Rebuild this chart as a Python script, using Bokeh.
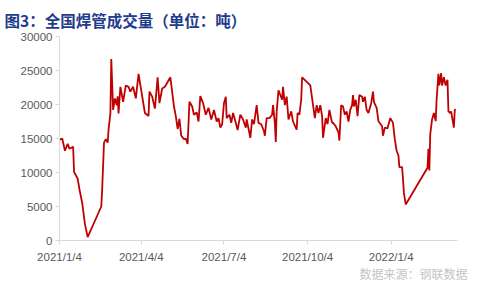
import pandas as pd
from bokeh.plotting import figure
from bokeh.models import Range1d, FixedTicker, Title, ColumnDataSource
from bokeh.embed import file_html
from bokeh.resources import INLINE

# ---- data ----
start_date = "2021-01-04"
day_offsets = [0, 3, 6, 9, 11, 15, 16, 18, 20, 22, 25, 28, 31, 46, 47, 49, 51, 53, 54, 56,
               57, 59, 61, 63, 64, 65, 67, 70, 73, 76, 78, 81, 84, 87, 92, 94, 98, 99, 102, 105,
               108, 110, 113, 116, 122, 126, 128, 130, 132, 134, 137, 139, 141, 143, 146, 148, 151, 153, 155, 158,
               161, 164, 167, 170, 173, 175, 177, 179, 181, 183, 184, 187, 189, 191, 194, 196, 199, 202, 205, 206,
               210, 212, 214, 217, 219, 222, 225, 226, 228, 231, 234, 235, 237, 238, 239, 241, 243, 245, 246, 248,
               250, 252, 255, 257, 261, 262, 264, 266, 267, 276, 278, 281, 283, 285, 287, 289, 290, 293, 295, 297,
               300, 301, 304, 307, 308, 310, 312, 314, 316, 318, 320, 322, 323, 324, 326, 328, 330, 333, 334, 336,
               338, 340, 343, 345, 346, 349, 351, 355, 356, 358, 361, 364, 366, 367, 369, 371, 373, 374, 377, 378,
               379, 381, 405, 406, 407, 408, 410, 412, 414, 415, 417, 418, 420, 421, 423, 425, 427, 428, 430, 431,
               434, 435, 436]
volume = [14800, 15000, 13200, 14200, 13500, 13800, 10100, 9600, 9100, 7500, 5500, 2400, 500, 5000, 7700, 14400, 14900, 14400, 16300, 18700,
          26700, 19200, 20900, 19900, 21200, 18700, 22600, 20400, 22800, 22600, 21900, 22600, 20900, 24500, 20400, 18750, 18300, 21900, 21150, 19400,
          24000, 20200, 22350, 22600, 24000, 19700, 18300, 16400, 17900, 15400, 14900, 15000, 14200, 20400, 19700, 18500, 18850, 17500, 21250, 20200,
          18500, 19500, 17800, 19200, 17500, 18000, 16600, 17100, 20200, 21150, 18000, 18500, 17300, 18750, 17300, 16250, 18500, 17800, 16600, 17800,
          15100, 17800, 17100, 19900, 17300, 17100, 16100, 15400, 18000, 18000, 18500, 19900, 17300, 14500, 19000, 22100, 21400, 20700, 22600, 19900,
          21150, 17800, 19000, 17500, 16300, 18750, 18500, 20700, 24000, 22800, 20900, 18000, 19900, 18750, 19900, 18300, 15100, 18000, 17100, 19200,
          17300, 17300, 16800, 15900, 14700, 19900, 19700, 18500, 19000, 17500, 19200, 19900, 21400, 19700, 20700, 18300, 21400, 21150, 20400, 21150,
          19200, 18750, 20200, 21900, 20400, 19500, 17550, 16800, 15400, 16600, 16500, 18000, 17550, 17300, 14900, 13200, 12500, 10800, 10800, 9100,
          7000, 5300, 10700, 13500, 10300, 15600, 17800, 18750, 17550, 20700, 24500, 22800, 24600, 22800, 24000, 22800, 23650, 19000, 18750, 19000,
          16600, 19200, 19300]
tick_dates = ["2021-01-04", "2021-04-04", "2021-07-04", "2021-10-04", "2022-01-04"]
tick_labels = ["2021/1/4", "2021/4/4", "2021/7/4", "2021/10/4", "2022/1/4"]
y_ticks = [0, 5000, 10000, 15000, 20000, 25000, 30000]
title_text = "图3：全国焊管成交量（单位：吨）"
source_text = "数据来源：钢联数据"

# ---- build ----
dates = pd.Timestamp(start_date) + pd.to_timedelta(day_offsets, unit="D")
src = ColumnDataSource(dict(date=dates, volume=volume))

def ms(d):
    return float(pd.Timestamp(d).value // 10**6)

x_start = ms(start_date)
x_end = ms("2022-03-18")

p = figure(width=480, height=288, output_backend="svg", toolbar_location=None,
           x_axis_type="datetime",
           x_range=Range1d(x_start, x_end), y_range=Range1d(0, 30000),
           min_border_left=59, min_border_right=23, min_border_top=32, min_border_bottom=48)

p.title.text = title_text
p.title.text_font = "Noto Sans CJK SC"
p.title.text_font_size = "15.5px"
p.title.text_font_style = "bold"
p.title.text_color = "#1f3b8c"
p.title.offset = -55
p.title.standoff = 12

p.line("date", "volume", source=src, line_color="#C00000", line_width=1.8)

p.xgrid.visible = False
p.ygrid.visible = False
p.outline_line_color = None
p.background_fill_color = "white"
p.border_fill_color = "white"

tick_ms = [ms(d) for d in tick_dates]
p.xaxis.ticker = FixedTicker(ticks=tick_ms)
p.xaxis.major_label_overrides = {t: l for t, l in zip(tick_ms, tick_labels)}
p.yaxis.ticker = FixedTicker(ticks=y_ticks)

for ax in (p.xaxis, p.yaxis):
    ax.axis_line_color = "#d9d9d9"
    ax.major_tick_line_color = "#d9d9d9"
    ax.major_tick_out = 4
    ax.major_tick_in = 0
    ax.minor_tick_line_color = None
    ax.major_label_text_color = "#595959"
    ax.major_label_text_font = "Liberation Sans"
    ax.major_label_text_font_size = "11.5px"
p.yaxis.major_label_standoff = 3
p.xaxis.major_label_standoff = 6

src_title = Title(text=source_text, align="right", text_font="Noto Sans CJK SC",
                  text_font_size="12px", text_font_style="normal", text_color="#c4c4c4",
                  offset=-10, standoff=-5)
p.add_layout(src_title, "below")

open("out.html", "w").write(file_html(p, INLINE))
